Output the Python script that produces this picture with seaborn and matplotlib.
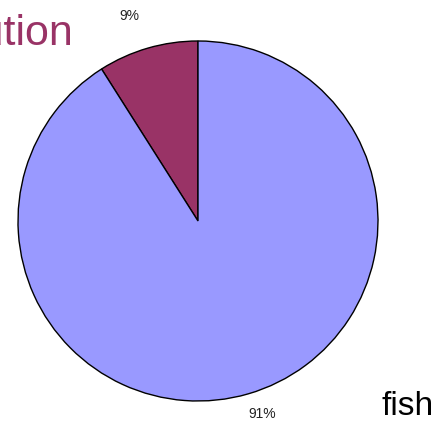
import numpy as np
import matplotlib
matplotlib.use("Agg")
import matplotlib.pyplot as plt
import seaborn as sns

# ---- data ----
categories = ["other", "fish"]
values = [9, 91]
colors = ["#993366", "#9999FF"]
title_text = "Distribution"
side_label = "fish"

sns.set_theme(style="white")
plt.rcParams["font.family"] = ["Liberation Sans", "DejaVu Sans"]

W, H = 438, 421
fig = plt.figure(figsize=(W / 100, H / 100), dpi=100)
fig.patch.set_facecolor("white")

cx, cy, r = 198, 221, 180
ax = fig.add_axes([(cx - r) / W, (H - cy - r) / H, 2 * r / W, 2 * r / H])

wedges, texts = ax.pie(
    values,
    colors=colors,
    startangle=90,
    counterclock=True,
    radius=1.0,
    wedgeprops=dict(edgecolor="black", linewidth=1.0),
)
ax.set_xlim(-1, 1)
ax.set_ylim(-1, 1)
ax.axis("off")

label_radius = [1.20, 1.13]
angle_shift = 2.3
total = float(sum(values))
for w, v, lr in zip(wedges, values, label_radius):
    mid = np.deg2rad((w.theta1 + w.theta2) / 2 + angle_shift)
    ax.text(
        lr * np.cos(mid), lr * np.sin(mid),
        f"{round(100 * v / total):d}%",
        ha="center", va="center", fontsize=10,
        family=["Liberation Sans Narrow", "Liberation Sans", "DejaVu Sans"],
        color="#222222", clip_on=False,
    )

fig.text(73 / W, 1 - 45 / H, title_text, ha="right", va="baseline",
         fontsize=31, color="#993366", family=["Liberation Sans", "DejaVu Sans"])
fig.text(381 / W, 1 - 415 / H, side_label, ha="left", va="baseline",
         fontsize=24, color="black", family=["Liberation Sans", "DejaVu Sans"])

fig.savefig("out.png", dpi=100, facecolor="white")
